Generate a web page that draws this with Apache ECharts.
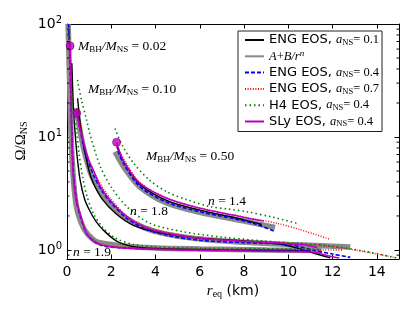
<!DOCTYPE html>
<html><head><meta charset="utf-8">
<script src="https://cdn.jsdelivr.net/npm/echarts@6/dist/echarts.min.js"></script>
<style>html,body{margin:0;padding:0;background:#fff}#c{width:415px;height:312px}</style>
</head><body><div id="c"></div>
<script>
// ---- tick values ----
const xTicks = [0, 2, 4, 6, 8, 10, 12, 14];
const yMajor = [1, 10, 100];
const yMinor = [0.9, 2, 3, 4, 5, 6, 7, 8, 9, 20, 30, 40, 50, 60, 70, 80, 90];

// ---- M_BH/M_NS = 0.02 ----
const q002_eng01 = [[0.22,45],[0.28,20],[0.33,13.5],[0.38,10],[0.45,7],[0.59,4.2],[0.8,2.8],[1.04,2.2],[1.3,1.8],[1.64,1.5],[2.24,1.2],[3,1.07],[4,1.03],[7,1.0],[10,0.99],[11,0.98]];
const q002_fit   = [[0.05,100],[0.08,60],[0.12,30],[0.17,12],[0.25,5.5],[0.36,3.0],[0.5,2.1],[0.8,1.5],[1.2,1.23],[1.5,1.16],[2.7,1.08],[4,1.04],[6,1.02],[9,1.0],[11.5,0.99]];
const q002_eng04 = [[0.07,100],[0.12,58],[0.17,24],[0.21,12],[0.3,4.5],[0.45,2.6],[0.6,2.0],[0.9,1.38],[1.4,1.13],[2,1.06],[4,1.02],[8,1.0],[11,0.98]];
const q002_eng07 = [[0.1,75],[0.14,45],[0.19,16],[0.27,5.5],[0.4,3.0],[0.6,2.1],[0.9,1.42],[1.4,1.16],[2,1.08],[4,1.03],[8,1.01],[12.5,1.0]];
const q002_h4    = [[0.1,90],[0.14,55],[0.2,28],[0.3,16],[0.44,11],[0.55,7],[0.7,4.5],[0.9,3.0],[1.2,2.1],[1.6,1.6],[2.2,1.27],[3,1.12],[4,1.06],[7,1.03],[10,1.02],[11.5,1.01]];
const q002_sly   = [[0.14,64],[0.17,30],[0.21,11.5],[0.29,4.2],[0.42,2.7],[0.59,2.1],[0.89,1.4],[1.34,1.15],[1.94,1.07],[3,1.03],[5,1.0],[8,0.98],[11.1,0.96],[11.7,0.9],[12.3,0.85]];

// ---- M_BH/M_NS = 0.10 ----
const q010_eng01 = [[0.48,22],[0.6,13],[0.8,7.5],[1.0,5.0],[1.19,3.9],[1.6,2.8],[2.2,2.1],[3,1.65],[4.2,1.42],[6,1.27],[8,1.2],[9.6,1.13],[10.4,1.04],[11.2,0.93],[11.9,0.85]];
const q010_fit   = [[0.42,18],[0.6,11],[0.8,7.2],[1.1,4.6],[1.5,3.3],[2,2.5],[2.7,1.9],[3.5,1.57],[4.5,1.38],[6,1.25],[8,1.17],[10,1.12],[12.8,1.06]];
const q010_eng04 = [[0.43,17],[0.6,11.5],[0.8,7.5],[1.2,4.6],[1.6,3.3],[2,2.6],[2.7,1.9],[3.5,1.55],[4.5,1.35],[6,1.22],[8,1.16],[10,1.12],[11.1,1.0],[12,0.92],[12.8,0.86]];
const q010_eng07 = [[0.45,18],[0.6,12.5],[0.8,8],[1.2,5],[1.6,3.6],[2,2.8],[2.7,2.0],[3.5,1.63],[4.5,1.43],[6,1.28],[8,1.2],[10,1.15],[12,1.07],[13.5,0.96],[14.9,0.85]];
const q010_h4    = [[0.47,32],[0.66,21],[0.89,14],[1.04,10.5],[1.5,5.5],[2,3.6],[2.7,2.42],[3.75,1.72],[5.26,1.45],[7,1.3],[9.6,1.17],[10.7,1.14],[12,1.08],[13.5,0.97],[14.9,0.85]];
const q010_sly   = [[0.44,16.2],[0.55,12.5],[0.7,9.8],[0.95,6.5],[1.19,5.1],[1.5,3.7],[1.94,2.77],[2.7,1.97],[3.45,1.61],[4.2,1.45],[5.5,1.3],[6.8,1.23],[8.2,1.19],[9.6,1.15],[10.7,1.11],[11.3,1.05]];

// ---- M_BH/M_NS = 0.50 ----
const q050_eng01 = [[2.25,8.2],[2.6,5.9],[3.3,3.8],[4.5,2.75],[6,2.25],[7.5,1.95],[8.3,1.78],[8.8,1.68]];
const q050_fit   = [[2.17,7.4],[2.6,5.3],[3.3,3.6],[4.5,2.6],[6,2.15],[7.5,1.88],[8.5,1.72],[9.4,1.58]];
const q050_eng04 = [[2.3,7.5],[2.6,5.6],[3.3,3.63],[4.5,2.65],[6,2.18],[7.5,1.9],[8.5,1.7],[9.35,1.47]];
const q050_eng07 = [[2.25,8.5],[2.6,6.2],[3.3,3.95],[4.5,2.9],[6,2.36],[7.5,2.05],[8.5,1.88],[9.5,1.72],[10.5,1.52],[11.9,1.24]];
const q050_h4    = [[2.17,11.9],[2.5,8.4],[3.0,5.9],[3.7,4.2],[4.5,3.28],[5.5,2.75],[6.46,2.42],[7.3,2.3],[8.12,2.18],[9.3,1.95],[10.5,1.7]];
const q050_sly   = [[2.24,8.97],[2.4,7.2],[2.7,5.46],[3.3,3.89],[4.5,2.87],[6,2.34],[7.5,2.04],[8.2,1.9],[8.9,1.8]];

const eosNames = ['eng01','fit','eng04','eng07','h4','sly'];
const groups = [
  {eng01:q002_eng01, fit:q002_fit, eng04:q002_eng04, eng07:q002_eng07, h4:q002_h4, sly:q002_sly},
  {eng01:q010_eng01, fit:q010_fit, eng04:q010_eng04, eng07:q010_eng07, h4:q010_h4, sly:q010_sly},
  {eng01:q050_eng01, fit:q050_fit, eng04:q050_eng04, eng07:q050_eng07, h4:q050_h4, sly:q050_sly}
];

const styles = {
  eng01: {color:'#000000', width:1.4, type:'solid', z:2},
  fit:   {color:'#8a8a8a', width:5.5, type:'solid', z:1},
  eng04: {color:'#0000ff', width:1.6, type:[4,2], z:3},
  eng07: {color:'#ff0000', width:1.4, type:[1,1.6], z:4},
  h4:    {color:'#008000', width:1.6, type:[1.5,3,1.5,3], z:5},
  sly:   {color:'#bf00bf', width:1.5, type:'solid', z:6}
};

const serif = 'Liberation Serif';
const sans = 'DejaVu Sans';
const legendText = {
  eng01: 'ENG EOS, {i|a}{s|NS}{r|= 0.1}',
  fit:   '{i|A}{r|+}{i|B/r}{p|n}',
  eng04: 'ENG EOS, {i|a}{s|NS}{r|= 0.4}',
  eng07: 'ENG EOS, {i|a}{s|NS}{r|= 0.7}',
  h4:    'H4 EOS, {i|a}{s|NS}{r|= 0.4}',
  sly:   'SLy EOS, {i|a}{s|NS}{r|= 0.4}'
};

const series = [];
eosNames.forEach(k => {
  groups.forEach(g => {
    const s = styles[k];
    series.push({
      type:'line', name:k, data:g[k], symbol:'none', smooth:0.3,
      lineStyle:{color:s.color, width:s.width, type:s.type},
      itemStyle:{color:s.color}, z:s.z, animation:false, silent:true
    });
  });
});
series.push({
  type:'scatter', name:'marker', data:groups.map(g => g.sly[0]),
  symbol:'circle', symbolSize:8,
  itemStyle:{color:'#bf00bf', borderColor:'#7a007a', borderWidth:0.8}, z:10, animation:false, silent:true
});
series.push({
  type:'custom', name:'minor', data:yMinor.map(v => [0, v]), silent:true, animation:false, clip:false, z:20,
  renderItem:(params, api) => {
    const p = api.coord([0, api.value(1)]);
    const cs = params.coordSys;
    return {type:'group', children:[
      {type:'line', shape:{x1:cs.x, y1:p[1], x2:cs.x+2.5, y2:p[1]}, style:{stroke:'#000', lineWidth:1}},
      {type:'line', shape:{x1:cs.x+cs.width, y1:p[1], x2:cs.x+cs.width-2.5, y2:p[1]}, style:{stroke:'#000', lineWidth:1}}
    ]};
  }
});

const mrich = {
  i:{fontFamily:serif, fontStyle:'italic', fontSize:13.5, lineHeight:16, verticalAlign:'middle'},
  s:{fontFamily:serif, fontSize:9, lineHeight:7, verticalAlign:'bottom'},
  r:{fontFamily:serif, fontSize:13.5, lineHeight:16, verticalAlign:'middle'}
};
function ann(x, y, text) {
  return {type:'text', x:x, y:y, z:30, silent:true,
    style:{text:text, rich:mrich, fill:'#000', verticalAlign:'middle', align:'left'}};
}

const yLabel = v => {
  const e = Math.round(Math.log10(v));
  if (Math.abs(Math.log10(v) - e) > 1e-6) return '';
  return '{b|10}{sup|' + e + '}';
};

const option = {
  animation:false,
  backgroundColor:'#fff',
  grid:{left:67, right:16, top:24, bottom:53},
  legend:{
    show:true, orient:'vertical', left:238, top:31,
    data:eosNames, selectedMode:false,
    backgroundColor:'#fff', borderColor:'#222', borderWidth:1, borderRadius:0,
    padding:[2,3,3,6], itemGap:2.3, itemWidth:19, itemHeight:14,
    itemStyle:{opacity:0},
    formatter: n => legendText[n],
    textStyle:{fontFamily:sans, fontSize:13, color:'#000', lineHeight:14,
      rich:{
        i:{fontFamily:serif, fontStyle:'italic', fontSize:12.5, lineHeight:14},
        s:{fontFamily:serif, fontSize:8.5, lineHeight:5, verticalAlign:'bottom'},
        r:{fontFamily:serif, fontSize:12.5, lineHeight:14},
        p:{fontFamily:serif, fontStyle:'italic', fontSize:9, lineHeight:5, verticalAlign:'top'}
      }}
  },
  xAxis:[{
    type:'value', min:0, max:15, interval:2, position:'bottom',
    axisLine:{show:true, onZero:false, lineStyle:{color:'#000', width:1}},
    axisTick:{show:true, inside:true, length:4.5, lineStyle:{color:'#000'}},
    splitLine:{show:false},
    axisLabel:{show:true, margin:6, color:'#000', fontFamily:sans, fontSize:14, showMaxLabel:false,
      formatter: v => xTicks.indexOf(v) >= 0 ? String(v) : ''},
    name:'{i|r}{s|eq}{t| (km)}', nameLocation:'middle', nameGap:19,
    nameTextStyle:{color:'#000', rich:{
      i:{fontFamily:serif, fontStyle:'italic', fontSize:15, lineHeight:16},
      s:{fontFamily:serif, fontSize:10, lineHeight:7, verticalAlign:'bottom'},
      t:{fontFamily:sans, fontSize:14, lineHeight:16}
    }}
  },{
    type:'value', min:0, max:15, interval:2, position:'top',
    axisLine:{show:true, onZero:false, lineStyle:{color:'#000', width:1}},
    axisTick:{show:true, inside:true, length:4.5, lineStyle:{color:'#000'}},
    splitLine:{show:false}, axisLabel:{show:false}
  }],
  yAxis:[{
    type:'log', logBase:10, min:0.832, max:100, position:'left',
    axisLine:{show:true, onZero:false, lineStyle:{color:'#000', width:1}},
    axisTick:{show:true, inside:true, length:4.5, lineStyle:{color:'#000'}},
    splitLine:{show:false}, minorTick:{show:false},
    axisLabel:{show:true, margin:5, color:'#000', formatter:yLabel,
      rich:{
        b:{fontFamily:sans, fontSize:14, lineHeight:18, verticalAlign:'middle', color:'#000'},
        sup:{fontFamily:sans, fontSize:10, lineHeight:10, verticalAlign:'top', color:'#000'}
      },
      fontFamily:sans, fontSize:14}
  },{
    type:'log', logBase:10, min:0.832, max:100, position:'right',
    axisLine:{show:true, onZero:false, lineStyle:{color:'#000', width:1}},
    axisTick:{show:true, inside:true, length:4.5, lineStyle:{color:'#000'}},
    splitLine:{show:false}, axisLabel:{show:false}
  }],
  graphic:[
    ann(78, 46, '{i|M}{s|BH}{i|/M}{s|NS}{r| = 0.02}'),
    ann(88, 89, '{i|M}{s|BH}{i|/M}{s|NS}{r| = 0.10}'),
    ann(146, 156, '{i|M}{s|BH}{i|/M}{s|NS}{r| = 0.50}'),
    ann(208, 201, '{i|n}{r| = 1.4}'),
    ann(130, 211, '{i|n}{r| = 1.8}'),
    ann(73, 252, '{i|n}{r| = 1.9}'),
    {type:'text', x:21, y:141, rotation:Math.PI/2, z:30, silent:true,
      style:{text:'{r|Ω/Ω}{s|NS}', fill:'#000', align:'center', verticalAlign:'middle',
        rich:{
          r:{fontFamily:serif, fontSize:15, lineHeight:16},
          s:{fontFamily:serif, fontSize:10, lineHeight:7, verticalAlign:'bottom'}
        }}}
  ],
  series:series
};
const chart = echarts.init(document.getElementById('c'), null, {renderer:'canvas'});
chart.setOption(option);
</script></body></html>
